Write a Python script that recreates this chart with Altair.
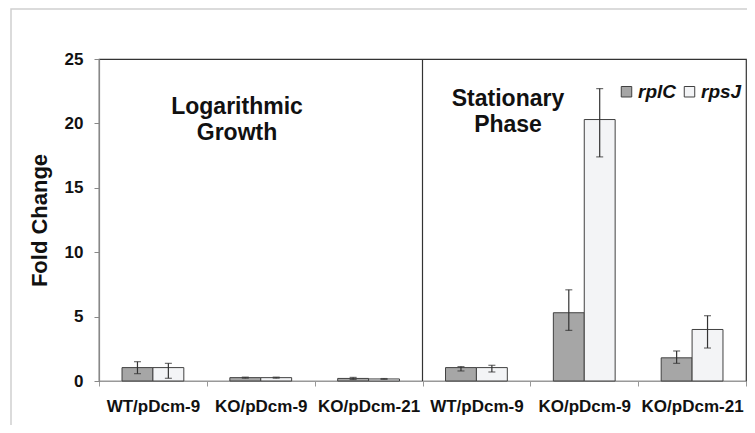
import altair as alt
import pandas as pd

# ---- data ----
phases = ["Logarithmic Growth", "Stationary Phase"]
strains = ["WT/pDcm-9", "KO/pDcm-9", "KO/pDcm-21"]
series = ["rplC", "rpsJ"]

rplC_vals = [1.04, 0.26, 0.20, 1.04, 5.3, 1.8]
rplC_lo = [0.57, 0.22, 0.12, 0.78, 3.93, 1.37]
rplC_hi = [1.50, 0.30, 0.28, 1.12, 7.08, 2.33]

rpsJ_vals = [1.04, 0.26, 0.16, 1.04, 20.3, 4.0]
rpsJ_lo = [0.21, 0.22, 0.13, 0.70, 17.4, 2.56]
rpsJ_hi = [1.37, 0.30, 0.19, 1.22, 22.7, 5.07]

keys = [f"{p[0]}:{s}" for p in phases for s in strains]

rows = []
for i, k in enumerate(keys):
    rows.append(dict(key=k, series="rplC", value=rplC_vals[i], lo=rplC_lo[i], hi=rplC_hi[i]))
    rows.append(dict(key=k, series="rpsJ", value=rpsJ_vals[i], lo=rpsJ_lo[i], hi=rpsJ_hi[i]))
df = pd.DataFrame(rows)

W, H = 647, 322
FONT = "Liberation Sans"

x_enc = alt.X(
    "key:N",
    sort=keys,
    scale=alt.Scale(paddingInner=0, paddingOuter=0),
    axis=alt.Axis(
        title=None,
        labelExpr="split(datum.label, ':')[1]",
        labelAngle=0,
        labelFontSize=17,
        labelFontWeight="bold",
        labelColor="#111",
        labelPadding=12,
        tickBand="extent",
        tickSize=5,
        tickColor="#999",
        domainColor="#999",
        domainWidth=1.2,
    ),
)
xo_enc = alt.XOffset("series:N", sort=series, scale=alt.Scale(paddingInner=0, paddingOuter=0.745))
y_scale = alt.Scale(domain=[0, 25], nice=False)

base = alt.Chart(df)

bars = base.mark_bar(stroke="#404040", strokeWidth=1).encode(
    x=x_enc,
    xOffset=xo_enc,
    y=alt.Y(
        "value:Q",
        scale=y_scale,
        axis=alt.Axis(
            title="Fold Change",
            titleFontSize=22,
            titleFontWeight="bold",
            titleColor="#111",
            titlePadding=13,
            values=[0, 5, 10, 15, 20, 25],
            labelFontSize=17,
            labelFontWeight="bold",
            labelColor="#111",
            labelPadding=11,
            tickSize=5,
            tickColor="#888",
            domainColor="#888",
            domainWidth=1.2,
            grid=False,
        ),
    ),
    fill=alt.Fill(
        "series:N",
        sort=series,
        scale=alt.Scale(domain=series, range=["#a6a6a6", "#f3f4f6"]),
        legend=alt.Legend(
            title=None,
            orient="none",
            legendX=518,
            legendY=23,
            direction="horizontal",
            symbolType="square",
            symbolSize=110,
            symbolStrokeColor="#404040",
            symbolStrokeWidth=1,
            labelFontSize=19,
            labelFontStyle="italic",
            labelFontWeight="bold",
            labelColor="#111",
            labelOffset=2,
            columnPadding=4,
            padding=0,
        ),
    ),
)

err = base.mark_rule(color="#333", strokeWidth=1.2).encode(
    x=alt.X("key:N", sort=keys), xOffset=xo_enc,
    y=alt.Y("lo:Q", scale=y_scale), y2="hi:Q",
)
cap_lo = base.mark_tick(color="#333", size=7, thickness=1.2).encode(
    x=alt.X("key:N", sort=keys), xOffset=xo_enc, y=alt.Y("lo:Q", scale=y_scale),
)
cap_hi = base.mark_tick(color="#333", size=7, thickness=1.2).encode(
    x=alt.X("key:N", sort=keys), xOffset=xo_enc, y=alt.Y("hi:Q", scale=y_scale),
)

divider = alt.Chart(pd.DataFrame({"key": [keys[3]]})).mark_rule(color="#333", strokeWidth=1.2).encode(
    x=alt.X("key:N", sort=keys, bandPosition=0),
    y=alt.value(0),
    y2=alt.value(H),
)

ann = pd.DataFrame({
    "label": [["Logarithmic", "Growth"], ["Stationary", "Phase"]],
    "px": [138, 409],
    "py": [48, 40],
})
annot = alt.Chart(ann).mark_text(
    font=FONT, fontSize=23, fontWeight="bold", color="#111", lineHeight=26, baseline="middle"
).encode(
    text="label",
    x=alt.X("px:Q", scale=None),
    y=alt.Y("py:Q", scale=None),
)

frame = alt.Chart(pd.DataFrame({"a": [0]})).mark_rect(
    fill=None, stroke="#cfcfcf", strokeWidth=1.5, clip=False
).encode(
    x=alt.value(-88), x2=alt.value(670), y=alt.value(-50), y2=alt.value(400)
)

chart = alt.layer(frame, bars, err, cap_lo, cap_hi, divider, annot).properties(
    width=W,
    height=H,
    autosize=alt.AutoSizeParams(type="none"),
    padding={"left": 91, "top": 51, "right": 1, "bottom": 44},
).configure(
    font=FONT,
).configure_view(
    stroke="#333", strokeWidth=1.2,
)

chart.save("out.html", embed_options={"renderer": "svg", "actions": False})
